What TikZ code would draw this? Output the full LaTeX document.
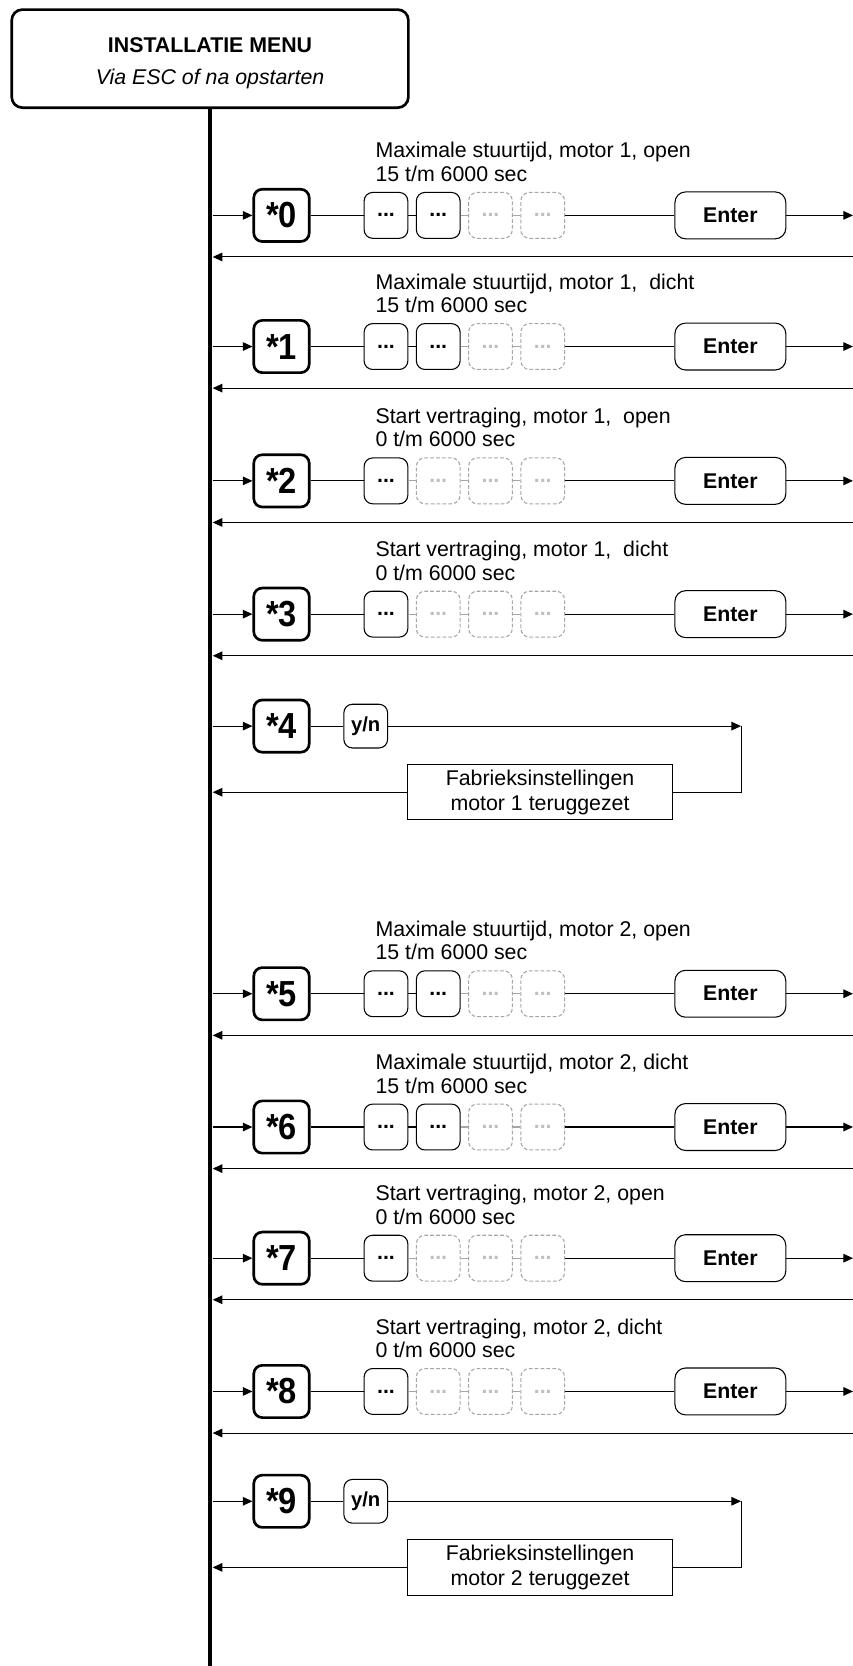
\documentclass[tikz,border=0pt]{standalone}
\usepackage{fontspec}
\usepackage{graphicx}
\setmainfont{Liberation Sans}
\usetikzlibrary{arrows.meta}
\tikzset{
  every node/.style={inner sep=0pt},
  lbl/.style={font=\fontsize{20}{22}\selectfont, align=left, anchor=west},
  starbox/.style={draw, line width=2.5pt, rounded corners=8pt, minimum width=52pt, minimum height=49pt, fill=white, font=\bfseries\fontsize{34}{34}\selectfont},
  keybox/.style={draw, line width=1pt, rounded corners=8pt, minimum width=41pt, minimum height=43pt, fill=white, font=\bfseries\fontsize{20}{20}\selectfont},
  ghostbox/.style={keybox, draw=black!35, dash pattern=on 3.5pt off 2pt, text=black!25},
  enterbox/.style={draw, line width=1pt, rounded corners=10pt, minimum width=104pt, minimum height=44pt, fill=white, font=\bfseries\fontsize{20}{20}\selectfont},
  ynbox/.style={draw, line width=1pt, rounded corners=8pt, minimum width=41pt, minimum height=41pt, fill=white, font=\bfseries\fontsize{19}{19}\selectfont},
  infobox/.style={draw, line width=1pt, minimum width=249pt, minimum height=52pt, fill=white, align=center, font=\fontsize{20}{23}\selectfont},
  conn/.style={line width=1pt},
  ghostconn/.style={line width=1pt, draw=black!35},
  arr/.style={line width=1pt, -{Triangle[length=9pt,width=8pt]}},
  spine/.style={line width=4.5pt},
  menubox/.style={draw, line width=2.5pt, rounded corners=10pt, minimum width=372pt, minimum height=92pt},
}
\newcommand\startext[1]{\scalebox{0.9}[1]{*#1}}
\newcommand\menurow[5]{%
  \node[starbox] (s#1) at (264,#2) {\startext{#1}};
  \coordinate (in#1) at (199.5,#2);
  \draw[arr] (in#1) -- (s#1);
  \node[lbl] (l#1) at (352,#2-50) {#4\\#5};
  \foreach \i/\xx in {1/362,2/411,3/460,4/509}{%
    \ifnum\i>#3\relax
      \node[ghostbox] (k#1-\i) at (\xx,#2) {...};
    \else
      \node[keybox] (k#1-\i) at (\xx,#2) {...};
    \fi
  }
  \draw[conn] (s#1) -- (k#1-1);
  \foreach \i/\j in {1/2,2/3,3/4}{%
    \ifnum\j>#3\relax
      \draw[ghostconn] (k#1-\i) -- (k#1-\j);
    \else
      \draw[conn] (k#1-\i) -- (k#1-\j);
    \fi
  }
  \node[enterbox] (e#1) at (685,#2) {Enter};
  \draw[conn] (k#1-4) -- (e#1);
  \coordinate (out#1) at (800,#2);
  \draw[arr] (e#1) -- (out#1);
  \coordinate (ret#1) at (800,#2+39);
  \coordinate (back#1) at (199.5,#2+39);
  \draw[arr] (ret#1) -- (back#1);
}
\newcommand\resetrow[3]{%
  \node[starbox] (s#1) at (264,#2) {\startext{#1}};
  \coordinate (in#1) at (199.5,#2);
  \draw[arr] (in#1) -- (s#1);
  \node[ynbox] (yn#1) at (343,#2) {y/n};
  \draw[conn] (s#1) -- (yn#1);
  \coordinate (c#1) at (695,#2);
  \draw[arr] (yn#1) -- (c#1);
  \node[infobox] (f#1) at (506.5,#2+62) {Fabrieksinstellingen\\motor #3 teruggezet};
  \coordinate (d#1) at (695,#2+62);
  \draw[conn] (c#1) -- (d#1) -- (f#1);
  \coordinate (back#1) at (199.5,#2+62);
  \draw[arr] (f#1) -- (back#1);
}
\begin{document}
\begin{tikzpicture}[x=1pt,y=-1pt]
\useasboundingbox (0,0) rectangle (800,1562.5);
\node[menubox] (menu) at (197,55) {};
\node[font=\bfseries\fontsize{20}{20}\selectfont] (title) at (197,42) {INSTALLATIE MENU};
\node[font=\itshape\fontsize{20}{20}\selectfont] (sub) at (197,74) {Via ESC of na opstarten};
\coordinate (bottom) at (197,1562.5);
\draw[spine] (menu.south) -- (bottom);
\menurow{0}{202}{2}{Maximale stuurtijd, motor 1, open}{15 t/m 6000 sec}
\menurow{1}{325}{2}{Maximale stuurtijd, motor 1,~ dicht}{15 t/m 6000 sec}
\menurow{2}{451}{1}{Start vertraging, motor 1,~ open}{0 t/m 6000 sec}
\menurow{3}{576}{1}{Start vertraging, motor 1,~ dicht}{0 t/m 6000 sec}
\resetrow{4}{681}{1}
\menurow{5}{932}{2}{Maximale stuurtijd, motor 2, open}{15 t/m 6000 sec}
\menurow{6}{1057}{2}{Maximale stuurtijd, motor 2, dicht}{15 t/m 6000 sec}
\menurow{7}{1180}{1}{Start vertraging, motor 2, open}{0 t/m 6000 sec}
\menurow{8}{1305}{1}{Start vertraging, motor 2, dicht}{0 t/m 6000 sec}
\resetrow{9}{1408}{2}
\end{tikzpicture}
\end{document}
